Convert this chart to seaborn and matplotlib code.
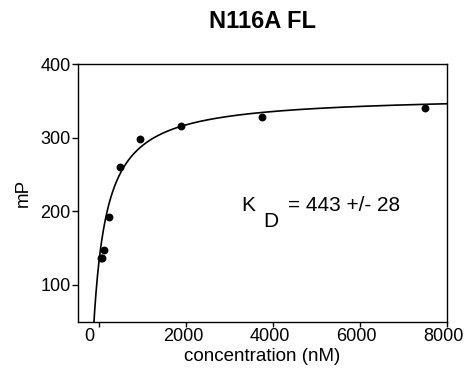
import numpy as np
import pandas as pd
import matplotlib
matplotlib.use("Agg")
import matplotlib.pyplot as plt
import seaborn as sns
from matplotlib.transforms import ScaledTranslation

# Measured polarization vs. titrant concentration
conc_nM = [29.3, 58.6, 117, 234, 469, 938, 1875, 3750, 7500]
mP = [136, 136, 147, 192, 260, 298, 316, 328, 341]

# One-site binding fit: y = bottom + span * x / (Kd + x)
fit_bottom = 136
fit_span = 222
kd_nM = 443
kd_err = 28

x_ticks = [0, 2000, 4000, 6000, 8000]
y_ticks = [100, 200, 300, 400]

sns.set_style("ticks")
plt.rcParams["font.family"] = ["Liberation Sans", "DejaVu Sans"]
plt.rcParams["text.color"] = "black"
plt.rcParams["axes.labelcolor"] = "black"

fig = plt.figure(figsize=(4.7, 3.75), dpi=100)
ax = fig.add_axes([0.167, 0.1421, 0.7834, 0.6864])

x_fit = np.linspace(-300, 8000, 1200)
y_fit = fit_bottom + fit_span * x_fit / (kd_nM + x_fit)
fit_df = pd.DataFrame({"conc": x_fit, "mP": y_fit})
data_df = pd.DataFrame({"conc": conc_nM, "mP": mP})

sns.lineplot(data=fit_df, x="conc", y="mP", color="black", lw=1.2,
             ax=ax, sort=False, estimator=None)
sns.scatterplot(data=data_df, x="conc", y="mP", color="black", s=32,
                edgecolor="black", linewidth=0, ax=ax, zorder=3)

ax.set_xlim(-480, 8000)
ax.set_ylim(50, 400)
ax.set_xticks(x_ticks)
ax.set_yticks(y_ticks)
ax.set_xticklabels([str(v) for v in x_ticks])
ax.set_yticklabels([str(v) for v in y_ticks])

for side in ["left", "right", "top", "bottom"]:
    ax.spines[side].set_visible(True)
    ax.spines[side].set_color("black")
    ax.spines[side].set_linewidth(1.0)

ax.tick_params(axis="y", length=4.5, width=1.0, pad=1, labelsize=13, colors="black")
ax.tick_params(axis="x", length=3.5, width=1.0, pad=1, labelsize=13, colors="black")

# nudge the x tick labels slightly left
for lbl, v in zip(ax.get_xticklabels(), x_ticks):
    dx = -10 if v == 0 else -3
    lbl.set_transform(lbl.get_transform() + ScaledTranslation(dx / 100, 0, fig.dpi_scale_trans))

ax.set_xlabel("concentration (nM)", fontsize=13.5, labelpad=2)
ax.set_ylabel("mP", fontsize=13.5, labelpad=6)
ax.set_title("N116A FL", fontsize=17, fontweight="bold", pad=26)

ax.text(0.443, 0.453, "K", transform=ax.transAxes, fontsize=15, ha="left", va="center")
ax.text(0.501, 0.389, "D", transform=ax.transAxes, fontsize=15, ha="left", va="center")
ax.text(0.569, 0.453, f"= {kd_nM} +/- {kd_err}", transform=ax.transAxes,
        fontsize=15, ha="left", va="center")

fig.savefig("out.png", dpi=100)
